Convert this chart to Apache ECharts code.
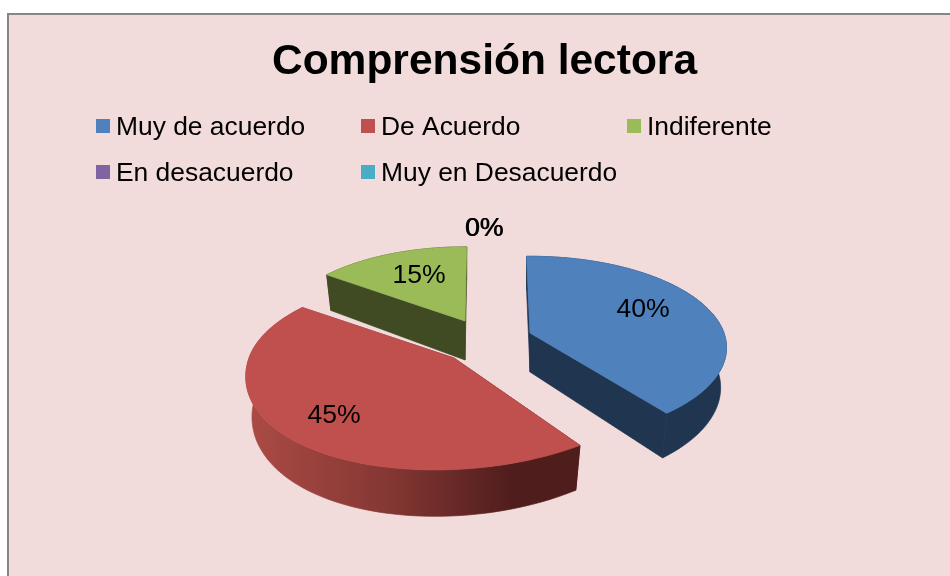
<!DOCTYPE html>
<html><head><meta charset="utf-8">
<style>html,body{margin:0;padding:0;background:#fff}#c{width:950px;height:576px}</style>
<script src="https://cdn.jsdelivr.net/npm/echarts@6/dist/echarts.min.js"></script>
</head><body><div id="c"></div>
<script>
const titleText = 'Comprensión lectora';
const categories = ['Muy de acuerdo', 'De Acuerdo', 'Indiferente', 'En desacuerdo', 'Muy en Desacuerdo'];
const values = [40, 45, 15, 0, 0];
const labels = ['40%', '45%', '15%', '0%', '0%'];
const colors = ['#4f81bd', '#c0504d', '#9bbb59', '#8064a2', '#4bacc6'];
const sideColors = ['#1f3550', {type:'linear',x:250,y:0,x2:560,y2:0,global:true,colorStops:[
  {offset:0,color:'#ab4a45'},{offset:0.45,color:'#843733'},{offset:0.85,color:'#4f1d1c'},{offset:1,color:'#4f1d1c'}]},
  '#404a23', '#4d3d63', '#2d6777'];

// Projection of each exploded slice: apex position, radii, angle nudges, front shear
const geom = [
  {ax:530,ay:333,R:194,S:89,d0:-1.2,d1:-2,sh:0},
  {ax:454,ay:358,R:205,S:94,d0:0,d1:0,sh:19},
  {ax:465,ay:321,R:187,S:86,d0:0,d1:0.6,sh:0},
  null, null
];
const labelAt = [[643,310],[334,416],[419,276],[484,229],[484.6,229]];
const K = 0.16, DEPTH = 39, SHRINK = 0.97;
const total = values.reduce((a,b)=>a+b,0);
const starts = []; values.reduce((a,b,i)=>{starts[i]=a;return a+b;},0);
const rad = d => d*Math.PI/180;

function proj(g, deg, f, low){
  const u = Math.sin(rad(deg))*f, v = Math.cos(rad(deg))*f, w = 1+K*v;
  const s = low ? SHRINK : 1;
  const front = Math.min(v,0);
  return [g.ax + s*g.R*u/w - g.sh*front*front, g.ay - g.S*v/w + (low ? DEPTH/w : 0)];
}
function renderSlice(idx){
  return function(params, api){
    const children = [];
    const g = geom[idx];
    if (g) {
      const a0 = starts[idx]/total*360 + g.d0;
      const a1 = (starts[idx]+api.value(0))/total*360 + g.d1;
      const top = [], bot = [];
      for (let i=0;i<=90;i++){
        const a = a0+(a1-a0)*i/90;
        top.push(proj(g,a,1,false)); bot.push(proj(g,a,1,true));
      }
      const atop = proj(g,0,0,false), abot = proj(g,0,0,true);
      const dark = sideColors[idx];
      const face = (pts,c)=>({type:'polygon',shape:{points:pts},style:{fill:c,stroke:c,lineWidth:0.7},silent:true});
      children.push(face([atop,abot,bot[0],top[0]],dark));
      children.push(face([atop,abot,bot[90],top[90]],dark));
      children.push(face(top.concat(bot.slice().reverse()),dark));
      children.push(face([atop].concat(top),colors[idx]));
    }
    children.push({type:'text',z2:50,style:{text:labels[idx],x:labelAt[idx][0],y:labelAt[idx][1],
      align:'center',verticalAlign:'middle',fill:'#000',font:'26.6px "Liberation Sans"'},silent:true});
    return {type:'group',children:children};
  };
}
const drawZ = [3,4,2,5,5];
const legendCols = [[categories[0],categories[3]],[categories[1],categories[4]],[categories[2]]];
const legendX = [96,361,627];
// square marker with an empty extent below it, so it sits slightly above the text's centre
const legendIcon = 'path://M0 0H14V14H0Z M0 18H0.01V18Z';

const chart = echarts.init(document.getElementById('c'),null,{renderer:'canvas'});
chart.setOption({
  animation:false,
  backgroundColor:'#ffffff',
  title:{text:titleText,left:479.5,top:36,textAlign:'center',
    textStyle:{fontFamily:'Liberation Sans',fontWeight:'bold',fontSize:42.5,color:'#000'}},
  legend:legendCols.map((d,i)=>({
    data:d,left:legendX[i],top:113,orient:'vertical',align:'left',itemWidth:14,itemHeight:18,itemGap:16,
    icon:legendIcon,selectedMode:false,padding:0,
    textStyle:{fontFamily:'Liberation Sans',fontSize:26.4,color:'#000',padding:[0,0,0,1],lineHeight:30}
  })),
  graphic:[{type:'rect',z:-10,silent:true,shape:{x:8,y:14,width:960,height:580},
    style:{fill:'#f2dcdb',stroke:'#868686',lineWidth:2}}],
  series:categories.map((n,i)=>({
    type:'custom',name:n,coordinateSystem:'none',z:drawZ[i],silent:true,
    itemStyle:{color:colors[i]},data:[[values[i]]],encode:{value:0},
    renderItem:renderSlice(i)
  }))
});
</script></body></html>
